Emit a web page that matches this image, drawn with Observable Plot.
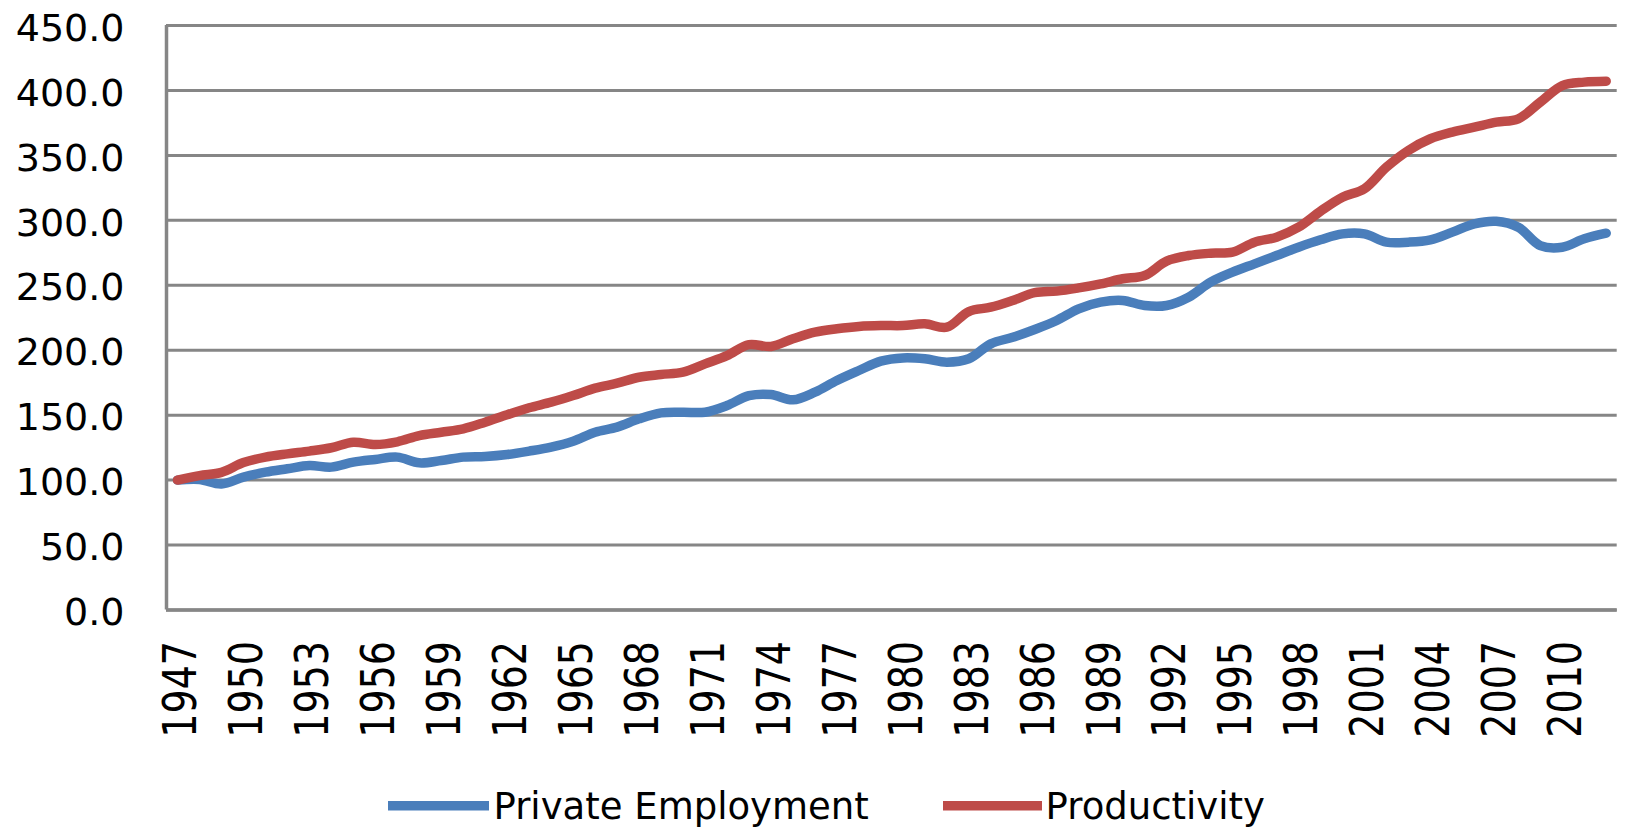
<!DOCTYPE html>
<html>
<head>
<meta charset="utf-8">
<script src="https://cdn.jsdelivr.net/npm/d3@7"></script>
<script src="https://cdn.jsdelivr.net/npm/@observablehq/plot@0.6"></script>
<style>
  html, body { margin: 0; padding: 0; background: #fff; overflow: hidden; }
  #chart { width: 1625px; height: 828px; position: relative; }
  svg { display: block; }
</style>
</head>
<body>
<div id="chart"></div>
<script>
const years = [1947,1948,1949,1950,1951,1952,1953,1954,1955,1956,1957,1958,1959,1960,1961,1962,1963,1964,1965,1966,1967,1968,1969,1970,1971,1972,1973,1974,1975,1976,1977,1978,1979,1980,1981,1982,1983,1984,1985,1986,1987,1988,1989,1990,1991,1992,1993,1994,1995,1996,1997,1998,1999,2000,2001,2002,2003,2004,2005,2006,2007,2008,2009,2010,2011,2012];

const employment = [100,100.5,97,102.3,106.1,108.7,111.2,110,113.8,115.9,117.7,113.3,115.1,117.7,118.2,119.7,122.3,125.4,130,136.9,140.8,147.2,151.8,152.3,152.3,157.4,165,165.9,161.8,167.7,176.7,184.4,191.6,194.1,193.4,190.8,193.4,204.9,210,216,222.9,231.9,237,238.3,234.4,234.4,240.8,252.4,260.1,266.5,272.9,279.3,285,289.6,289.6,283.2,283.2,285,290.9,297.3,299.3,294.7,280.6,279.3,285.8,290.1];

const productivity = [100,103.5,106,113.5,117.7,120.2,122.3,124.9,129.2,127.4,129.5,134.3,136.9,139.5,144.6,150.3,155.7,160,165.1,170.8,174.6,179.2,181.3,183.1,189.5,195.9,204.3,202.9,208.8,213.9,216.5,218.3,219,219,220.3,217.7,229.8,233.1,238.3,244.3,245.5,248,251.1,255,257.5,268.6,272.9,274.7,275.5,283.2,287,294.7,307,317.8,324.3,340.9,353.8,362.8,367.9,371.7,375.6,378.2,391,403.8,406.4,407.1];

const yTicks = [0,50,100,150,200,250,300,350,400,450];
const xTicks = [1947,1950,1953,1956,1959,1962,1965,1968,1971,1974,1977,1980,1983,1986,1989,1992,1995,1998,2001,2004,2007,2010];

const seriesNames = ["Private Employment", "Productivity"];
const seriesColors = ["#4A7EBB", "#BE4B48"];

const empData = years.map((y, i) => ({year: y, value: employment[i]}));
const prodData = years.map((y, i) => ({year: y, value: productivity[i]}));

const gridColor = "#868686";
const font = "DejaVu Sans";

const plot = Plot.plot({
  width: 1625,
  height: 770,
  marginLeft: 166,
  marginRight: 8.3,
  marginTop: 25,
  marginBottom: 160.5,
  style: {fontFamily: font, fontSize: "38px", color: "#000", background: "#fff"},
  x: {type: "linear", domain: [years[0] - 0.5, years[years.length - 1] + 0.5]},
  y: {domain: [yTicks[0], yTicks[yTicks.length - 1]]},
  marks: [
    Plot.ruleY(yTicks, {stroke: gridColor, strokeWidth: 3}),
    Plot.ruleX([years[0] - 0.5], {stroke: gridColor, strokeWidth: 3.5}),
    Plot.ruleY([yTicks[0]], {stroke: gridColor, strokeWidth: 3.5}),
    Plot.axisY({ticks: yTicks, tickFormat: d3.format(".1f"), tickSize: 0, tickPadding: 42, fontSize: 38, dy: 3, label: null}),
    Plot.axisX({ticks: xTicks, tickFormat: d => String(d), tickRotate: -90, tickSize: 0, tickPadding: 31, fontSize: 38, dx: 4, label: null}),
    Plot.line(empData, {x: "year", y: "value", stroke: seriesColors[0], strokeWidth: 9.5, curve: "catmull-rom", strokeLinejoin: "round"}),
    Plot.line(prodData, {x: "year", y: "value", stroke: seriesColors[1], strokeWidth: 9.5, curve: "catmull-rom", strokeLinejoin: "round"})
  ]
});

// stretch rotated x tick labels a little across to match the reference glyph height
d3.select(plot).selectAll('g[aria-label="x-axis tick label"] text').each(function() {
  const t = this.getAttribute("transform") || "";
  this.setAttribute("transform", t + " scale(1,1.22)");
});

const chart = document.getElementById("chart");
chart.appendChild(plot);

// legend below the chart
const legendH = 58;
const legend = d3.create("svg").attr("width", 1625).attr("height", legendH)
  .style("font-family", font).style("font-size", "37px");
const items = [
  {x0: 388, x1: 489, tx: 493.5},
  {x0: 943, x1: 1042, tx: 1045.6}
];
items.forEach((it, i) => {
  legend.append("line").attr("x1", it.x0).attr("x2", it.x1).attr("y1", 35.7).attr("y2", 35.7)
    .attr("stroke", seriesColors[i]).attr("stroke-width", 9.5);
  legend.append("text").attr("x", it.tx).attr("y", 49).attr("fill", "#000").text(seriesNames[i]);
});
chart.appendChild(legend.node());
</script>
</body>
</html>
